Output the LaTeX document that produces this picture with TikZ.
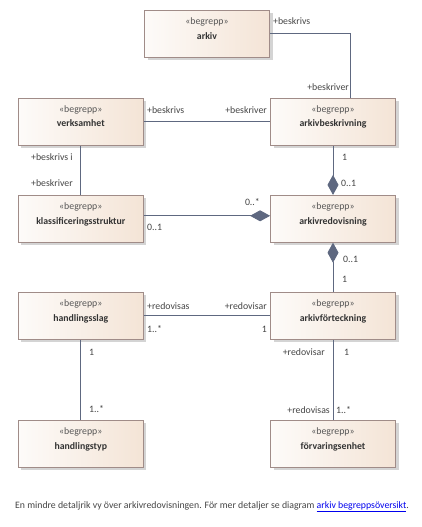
\documentclass[tikz,border=0pt]{standalone}
\usepackage{fontspec}
\setmainfont{Carlito}
\usetikzlibrary{arrows.meta,shadows}
\definecolor{lnc}{HTML}{5E6880}
\definecolor{bord}{HTML}{A08C88}
\definecolor{fillL}{HTML}{FDFBF9}
\definecolor{fillR}{HTML}{F4E4D6}
\definecolor{shd}{HTML}{D4D4D4}
\definecolor{txt}{HTML}{454545}
\definecolor{stc}{HTML}{555555}
\definecolor{nmc}{HTML}{333333}
\definecolor{linkc}{HTML}{0000EE}
\newcommand{\umlbox}[3]{%
  \node[box] (#1) at (#2) {};
  \node[stereo] (#1-st) at ([yshift=9.2bp]#1.center) {«begrepp»};
  \node[bname] (#1-nm) at ([yshift=-5.3bp]#1.center) {#3};
}
\begin{document}
\begin{tikzpicture}[x=1bp,y=-1bp,
  box/.style={draw=bord, line width=0.8bp, minimum width=125bp, minimum height=47bp,
    inner sep=0pt, left color=fillL, right color=fillR,
    drop shadow={shadow xshift=3bp, shadow yshift=-3bp, fill=shd, opacity=1}},
  stereo/.style={anchor=base, inner sep=0pt, font=\fontsize{9.8bp}{11bp}\selectfont, text=stc},
  bname/.style={anchor=base, inner sep=0pt, font=\fontsize{9.8bp}{11bp}\selectfont\bfseries, text=nmc},
  conn/.style={draw=lnc, line width=0.9bp},
  comp/.style={conn, -{Diamond[length=20bp,width=11bp,fill=lnc]}},
  lbl/.style={inner sep=0pt, font=\fontsize{9.8bp}{11bp}\selectfont, text=txt},
  lw/.style={lbl, anchor=base west},
  le/.style={lbl, anchor=base east},
]
\useasboundingbox (0,0) rectangle (421,527);
\fill[white] (0,0) rectangle (421,527);

\umlbox{arkiv}{207,33.8}{arkiv}
\umlbox{verk}{80.8,121.7}{verksamhet}
\umlbox{abes}{333,121.7}{arkivbeskrivning}
\umlbox{klass}{80.8,218.8}{klassificeringsstruktur}
\umlbox{ared}{333,218.8}{arkivredovisning}
\umlbox{hslag}{80.8,315.8}{handlingsslag}
\umlbox{afort}{333,315.8}{arkivförteckning}
\umlbox{htyp}{80.8,443.8}{handlingstyp}
\umlbox{forv}{333,443.8}{förvaringsenhet}

% connectors
\draw[conn] (arkiv.east) -| ([xshift=17bp]abes.north);
\draw[conn] (verk) -- (abes);
\draw[conn] (verk) -- (klass);
\draw[comp] (abes) -- (ared);
\draw[comp] ([yshift=3bp]klass.east) -- ([yshift=3bp]ared.west);
\draw[comp] (afort) -- (ared);
\draw[conn] (hslag) -- (afort);
\draw[conn] (hslag) -- (htyp);
\draw[conn] (afort) -- (forv);

% labels
\node[lw] (l1) at (273,25) {+beskrivs};
\node[le] (l2) at (349,91) {+beskriver};
\node[lw] (l3) at (147,114) {+beskrivs};
\node[le] (l4) at (267,114) {+beskriver};
\node[lw] (l5) at (31,161) {+beskrivs i};
\node[lw] (l6) at (31,187) {+beskriver};
\node[lw] (l7) at (342,161) {1};
\node[lw] (l8) at (341,187) {0..1};
\node[le] (l9) at (260,205.5) {0..*};
\node[lw] (l10) at (147,230) {0..1};
\node[lw] (l11) at (343,262) {0..1};
\node[lw] (l12) at (342,282) {1};
\node[lw] (l13) at (147,309) {+redovisas};
\node[le] (l14) at (267,309) {+redovisar};
\node[lw] (l15) at (147,332) {1..*};
\node[le] (l16) at (267,332) {1};
\node[lw] (l17) at (89,355) {1};
\node[lw] (l18) at (89,412) {1..*};
\node[le] (l19) at (325,355) {+redovisar};
\node[lw] (l20) at (344,355) {1};
\node[le] (l21) at (330,413) {+redovisas};
\node[lw] (l22) at (336,413) {1..*};

\node[lbl, anchor=base west] (cap) at (15,508) {En mindre detaljrik vy över arkivredovisningen. För mer detaljer se diagram \textcolor{linkc}{\underline{arkiv begreppsöversikt}}.};
\end{tikzpicture}
\end{document}
